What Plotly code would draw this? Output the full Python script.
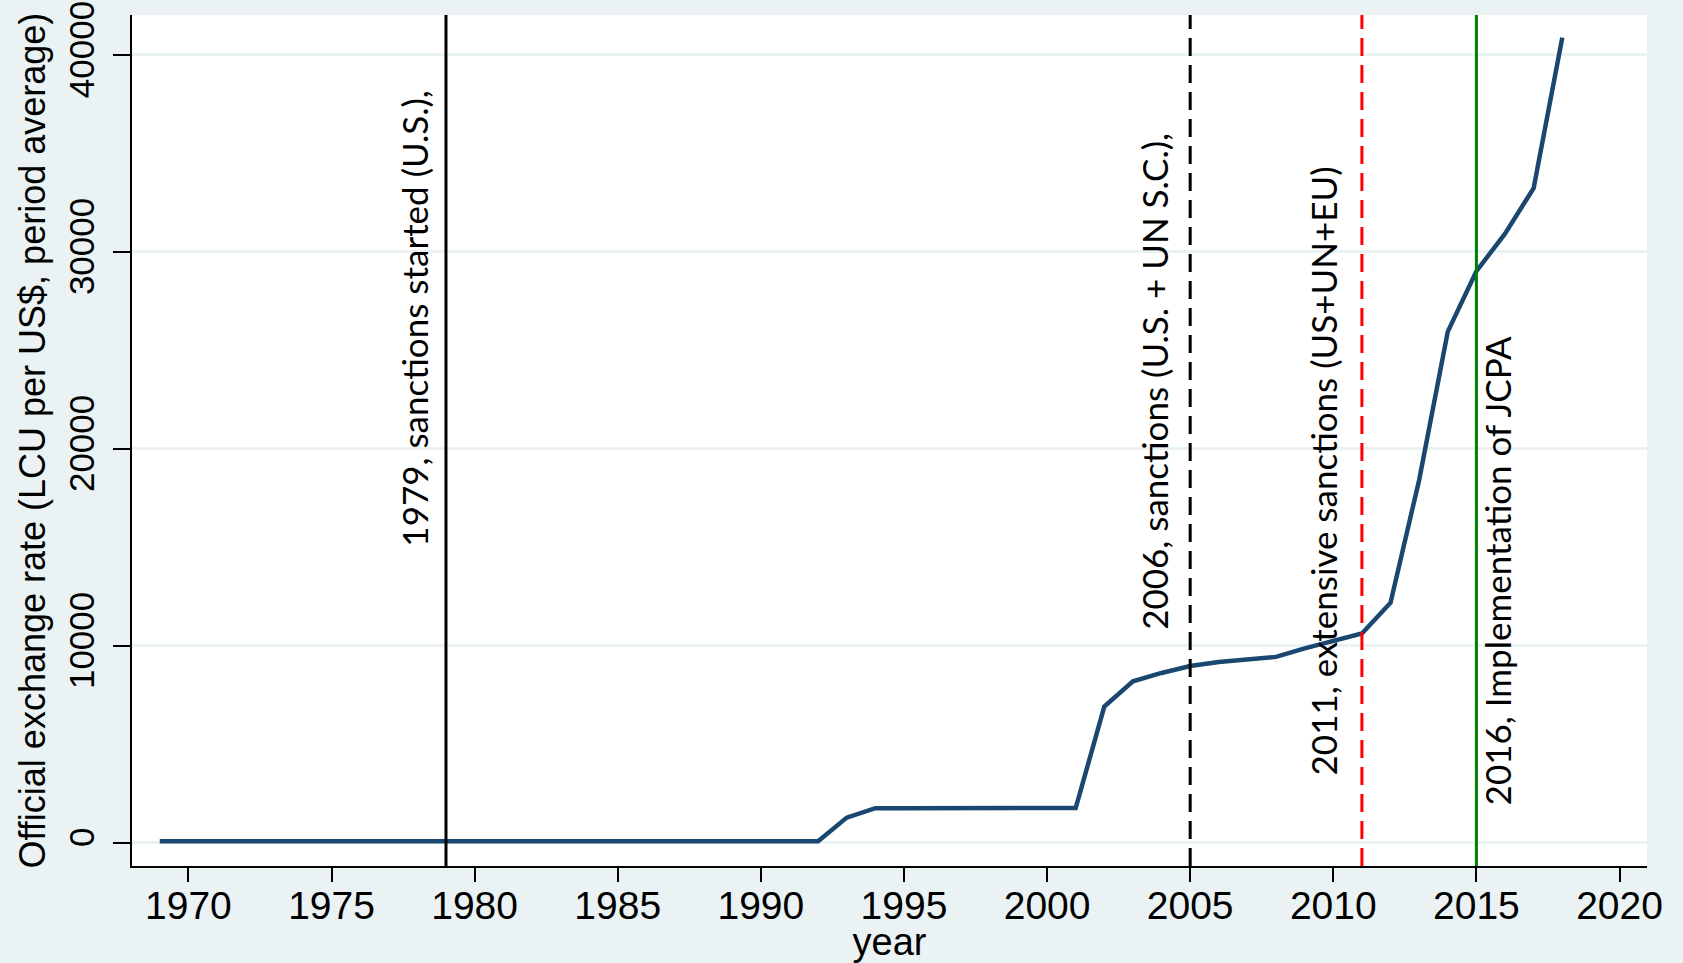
import plotly.graph_objects as go

# ---- data -------------------------------------------------------------
years = list(range(1969, 2019))
rate = [75.8, 75.8, 75.6, 75.8, 71.6, 68.9, 67.6, 70.2, 70.6, 70.5,
        70.5, 70.6, 78.3, 83.6, 86.4, 90.0, 91.1, 78.8, 71.5, 68.7,
        72.0, 68.1, 67.5, 65.6, 1268, 1749, 1748, 1751, 1753, 1752,
        1753, 1764, 1754, 6907, 8194, 8614, 8964, 9171, 9281, 9429,
        9864, 10254, 10616, 12176, 18414, 25942, 29011, 30915, 33226, 40864]

event_x = [1979, 2005, 2011, 2015]
event_color = ["black", "black", "red", "green"]
event_dash = ["solid", "18px,9px", "18px,9px", "solid"]
event_text = ["1979, sanctions started (U.S.),",
              "2006, sanctions (U.S. + UN S.C.),",
              "2011, extensive sanctions (US+UN+EU)",
              "2016, Implementation of JCPA"]
event_text_y = [26600, 23400, 18890, 13790]
event_text_shift = [-32, -36, -39, 21]

x_ticks = list(range(1970, 2021, 5))
y_ticks = [0, 10000, 20000, 30000, 40000]

BG = "#EAF2F3"
NAVY = "#1A476F"

fig = go.Figure()
fig.add_trace(go.Scatter(x=years, y=rate, mode="lines",
                         line=dict(color=NAVY, width=4.5),
                         showlegend=False, hoverinfo="x+y"))

for xv, c, d, t, ty, sh in zip(event_x, event_color, event_dash,
                               event_text, event_text_y, event_text_shift):
    fig.add_shape(type="line", xref="x", yref="paper", x0=xv, x1=xv,
                  y0=0, y1=1, layer="above",
                  line=dict(color=c, width=3, dash=d))
    fig.add_annotation(x=xv, y=ty, xref="x", yref="y", text=t,
                       textangle=-90, showarrow=False, xshift=sh,
                       xanchor="center", yanchor="middle",
                       font=dict(family="Lato, sans-serif", size=35, color="black"))

# y-axis title as rotated text at the far left
fig.add_annotation(x=0, y=0.5, xref="paper", yref="paper",
                   text="Official exchange rate (LCU per US$, period average)",
                   textangle=-90, showarrow=False, xshift=-100,
                   xanchor="center", yanchor="middle",
                   font=dict(family="Liberation Sans, Arial, sans-serif", size=36, color="black"))

fig.update_layout(
    width=1683, height=963,
    paper_bgcolor=BG, plot_bgcolor="white",
    margin=dict(l=132, r=36, t=15, b=97, autoexpand=False),
    font=dict(family="Liberation Sans, Arial, sans-serif", color="black"),
    showlegend=False,
)
fig.update_xaxes(range=[1968.03, 2020.96], tickvals=x_ticks,
                 ticks="outside", ticklen=14, tickwidth=2, tickcolor="black",
                 showline=True, linecolor="black", linewidth=2,
                 showgrid=False, zeroline=False,
                 tickfont=dict(size=39), ticklabelstandoff=-10,
                 ticklabeloverflow="allow",
                 title=dict(text="year", font=dict(size=38), standoff=13),
                 automargin=False)
fig.update_yaxes(range=[-1187, 42016], tickvals=y_ticks, tickformat="d",
                 ticks="outside", ticklen=17, tickwidth=2, tickcolor="black",
                 showline=True, linecolor="black", linewidth=2,
                 showgrid=True, gridcolor=BG, gridwidth=3, zeroline=False,
                 tickangle=-90, tickfont=dict(size=35), ticklabelstandoff=5,
                 ticklabeloverflow="allow",
                 automargin=False)

fig.write_html("out.html",
               config={"displayModeBar": False},
               post_script="document.body.style.margin='0';document.body.style.overflow='hidden';")
